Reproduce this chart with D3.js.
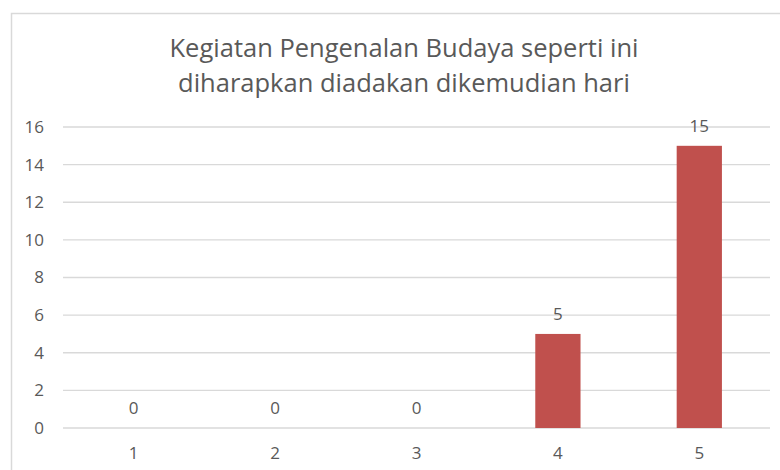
<!DOCTYPE html>
<html>
<head>
<meta charset="utf-8">
<script src="https://cdn.jsdelivr.net/npm/d3@7"></script>
<style>
  body { margin: 0; background: #fff; }
  text { font-family: "Open Sans", sans-serif; fill: #595959; }
</style>
</head>
<body>
<svg id="chart" width="780" height="470"></svg>
<script>
// données du graphique
var categories = ["1", "2", "3", "4", "5"];
var valeurs = [0, 0, 0, 5, 15];
var ticks_y = [0, 2, 4, 6, 8, 10, 12, 14, 16];
var titre = ["Kegiatan Pengenalan Budaya seperti ini", "diharapkan diadakan dikemudian hari"];

var svg = d3.select("#chart");

// cadre du graphique (coupé à droite et en bas)
svg.append("rect")
  .attr("x", 11.5).attr("y", 13.5)
  .attr("width", 800).attr("height", 500)
  .attr("fill", "#fff")
  .attr("stroke", "#d9d9d9")
  .attr("stroke-width", 1.5);

var plot = {left: 63, right: 770, top: 127, bottom: 428};

var x = d3.scaleBand()
  .domain(categories)
  .range([plot.left, plot.right])
  .padding(0);

var y = d3.scaleLinear()
  .domain([0, 16])
  .range([plot.bottom, plot.top]);

// grille horizontale
svg.append("g")
  .selectAll("line")
  .data(ticks_y)
  .enter()
  .append("line")
  .attr("x1", plot.left).attr("x2", plot.right)
  .attr("y1", d => y(d)).attr("y2", d => y(d))
  .attr("stroke", "#d9d9d9")
  .attr("stroke-width", 1.3);

// axe Y
var axeY = svg.append("g")
  .attr("transform", "translate(" + (plot.left - 19) + ",0)")
  .call(d3.axisLeft(y).tickValues(ticks_y).tickSize(0).tickPadding(0));
axeY.select(".domain").remove();
axeY.selectAll("text")
  .style("font-size", "17px")
  .style("font-family", "'Open Sans', sans-serif")
  .attr("fill", "#595959");

// axe X
var axeX = svg.append("g")
  .attr("transform", "translate(0," + plot.bottom + ")")
  .call(d3.axisBottom(x).tickSize(0).tickPadding(0));
axeX.select(".domain").remove();
axeX.selectAll("text")
  .attr("dy", "1.85em")
  .style("font-size", "17px")
  .style("font-family", "'Open Sans', sans-serif")
  .attr("fill", "#595959");

// barres
var largeur = x.bandwidth() * 0.32;
svg.append("g")
  .selectAll("rect")
  .data(valeurs)
  .enter()
  .append("rect")
  .attr("x", (d, i) => x(categories[i]) + x.bandwidth() / 2 - largeur / 2)
  .attr("y", d => y(d))
  .attr("width", largeur)
  .attr("height", d => plot.bottom - y(d))
  .attr("fill", "#c0504d");

// étiquettes des valeurs
svg.append("g")
  .selectAll("text")
  .data(valeurs)
  .enter()
  .append("text")
  .attr("x", (d, i) => x(categories[i]) + x.bandwidth() / 2)
  .attr("y", d => y(d) - 14)
  .attr("text-anchor", "middle")
  .style("font-size", "17px")
  .text(d => d);

// titre
svg.append("g")
  .selectAll("text")
  .data(titre)
  .enter()
  .append("text")
  .attr("x", 404)
  .attr("y", (d, i) => 57 + i * 35)
  .attr("text-anchor", "middle")
  .style("font-size", "25.5px")
  .text(d => d);
</script>
</body>
</html>
